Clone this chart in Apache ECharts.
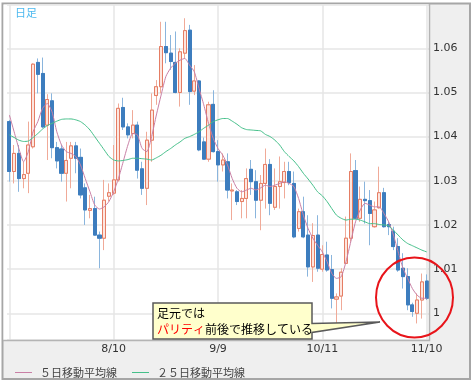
<!DOCTYPE html>
<html><head><meta charset="utf-8">
<script src="https://cdn.jsdelivr.net/npm/echarts@6/dist/echarts.min.js"></script>
<style>html,body{margin:0;padding:0;background:#fff}#c{width:474px;height:384px}</style>
</head><body><div id="c"></div>
<script>
const open = [1.0434,1.0321,1.0362,1.0305,1.0317,1.0377,1.0568,1.0543,1.0426,1.0481,
1.0375,1.0372,1.0317,1.0351,1.0379,1.0353,1.0284,1.0233,1.0237,1.0177,
1.0170,1.0265,1.0272,1.0302,1.0466,1.0422,1.0407,1.0426,1.0327,1.0283,
1.0392,1.0493,1.0513,1.0604,1.0589,1.0568,1.0500,1.0589,1.0641,1.0503,
1.0526,1.0388,1.0349,1.0473,1.0366,1.0336,1.0343,1.0277,1.0275,1.0253,
1.0260,1.0326,1.0298,1.0256,1.0294,1.0337,1.0240,1.0287,1.0296,1.0321,
1.0294,1.0192,1.0230,1.0177,1.0105,1.0177,1.0100,1.0132,1.0099,1.0032,
1.0039,1.0113,1.0170,1.0323,1.0215,1.0258,1.0255,1.0196,1.0239,1.0273,
1.0201,1.0186,1.0151,1.0102,1.0083,1.0019,1.0000,1.0030,1.0073];
const close = [1.0321,1.0362,1.0305,1.0314,1.0381,1.0564,1.0541,1.0422,1.0484,1.0375,
1.0345,1.0317,1.0346,1.0379,1.0351,1.0268,1.0234,1.0237,1.0177,1.0170,
1.0256,1.0273,1.0302,1.0464,1.0422,1.0404,1.0426,1.0324,1.0283,1.0392,
1.0460,1.0513,1.0604,1.0590,1.0570,1.0500,1.0592,1.0640,1.0502,1.0526,
1.0370,1.0349,1.0472,1.0366,1.0336,1.0347,1.0279,1.0279,1.0253,1.0260,
1.0305,1.0298,1.0256,1.0294,1.0337,1.0249,1.0287,1.0298,1.0321,1.0296,
1.0173,1.0230,1.0173,1.0105,1.0176,1.0102,1.0133,1.0098,1.0034,1.0037,
1.0093,1.0170,1.0321,1.0215,1.0258,1.0255,1.0226,1.0234,1.0273,1.0196,
1.0196,1.0151,1.0098,1.0083,1.0019,1.0004,1.0030,1.0071,1.0034];
const low = [1.0298,1.0294,1.0275,1.0283,1.0272,1.0373,1.0498,1.0419,1.0347,1.0351,
1.0328,1.0298,1.0253,1.0283,1.0317,1.0260,1.0200,1.0215,1.0176,1.0102,
1.0143,1.0253,1.0268,1.0298,1.0415,1.0396,1.0396,1.0305,1.0268,1.0245,
1.0343,1.0472,1.0498,1.0566,1.0551,1.0498,1.0468,1.0577,1.0472,1.0494,
1.0367,1.0347,1.0343,1.0364,1.0298,1.0321,1.0260,1.0211,1.0245,1.0215,
1.0215,1.0268,1.0215,1.0188,1.0237,1.0222,1.0234,1.0237,1.0260,1.0290,
1.0170,1.0185,1.0170,1.0083,1.0071,1.0094,1.0094,1.0094,1.0011,0.9977,
1.0007,1.0113,1.0162,1.0213,1.0207,1.0203,1.0154,1.0194,1.0237,1.0194,
1.0177,1.0143,1.0094,1.0056,1.0007,0.9992,0.9977,0.9988,1.0030];
const high = [1.0438,1.0381,1.0381,1.0343,1.0434,1.0566,1.0577,1.0579,1.0496,1.0498,
1.0388,1.0381,1.0388,1.0388,1.0388,1.0373,1.0294,1.0268,1.0264,1.0185,
1.0302,1.0294,1.0381,1.0475,1.0488,1.0430,1.0460,1.0434,1.0343,1.0411,
1.0498,1.0528,1.0660,1.0660,1.0630,1.0638,1.0600,1.0668,1.0653,1.0562,
1.0528,1.0398,1.0479,1.0505,1.0392,1.0362,1.0362,1.0294,1.0279,1.0279,
1.0328,1.0347,1.0324,1.0313,1.0373,1.0349,1.0328,1.0355,1.0343,1.0343,
1.0321,1.0237,1.0264,1.0222,1.0204,1.0222,1.0154,1.0162,1.0132,1.0045,
1.0102,1.0219,1.0362,1.0347,1.0287,1.0298,1.0279,1.0253,1.0332,1.0284,
1.0207,1.0196,1.0170,1.0136,1.0102,1.0024,1.0045,1.0090,1.0088];
const ma5 = [1.0449,1.0411,1.0373,1.0343,1.0366,1.0411,1.0434,1.0464,1.0475,1.0456,
1.0411,1.0381,1.0366,1.0362,1.0355,1.0336,1.0305,1.0275,1.0245,1.0236,
1.0241,1.0253,1.0275,1.0305,1.0343,1.0381,1.0407,1.0404,1.0373,1.0366,
1.0400,1.0449,1.0494,1.0536,1.0555,1.0566,1.0573,1.0577,1.0562,1.0547,
1.0509,1.0472,1.0430,1.0396,1.0373,1.0358,1.0336,1.0305,1.0283,1.0275,
1.0279,1.0283,1.0279,1.0284,1.0290,1.0287,1.0290,1.0294,1.0298,1.0294,
1.0287,1.0260,1.0222,1.0192,1.0170,1.0154,1.0139,1.0117,1.0090,1.0079,
1.0083,1.0117,1.0162,1.0207,1.0234,1.0249,1.0245,1.0241,1.0241,1.0226,
1.0207,1.0177,1.0139,1.0102,1.0079,1.0056,1.0041,1.0034,1.0034];
const ma25 = [1.0404,1.0398,1.0392,1.0389,1.0390,1.0398,1.0407,1.0417,1.0425,1.0430,
1.0435,1.0439,1.0440,1.0440,1.0438,1.0434,1.0426,1.0415,1.0400,1.0385,
1.0370,1.0355,1.0347,1.0345,1.0346,1.0348,1.0351,1.0351,1.0350,1.0349,
1.0347,1.0352,1.0358,1.0366,1.0373,1.0381,1.0388,1.0396,1.0400,1.0405,
1.0411,1.0419,1.0426,1.0434,1.0438,1.0441,1.0441,1.0435,1.0428,1.0420,
1.0416,1.0415,1.0414,1.0413,1.0405,1.0400,1.0392,1.0381,1.0366,1.0355,
1.0345,1.0332,1.0317,1.0304,1.0290,1.0275,1.0266,1.0253,1.0237,1.0222,
1.0215,1.0211,1.0213,1.0213,1.0211,1.0207,1.0203,1.0203,1.0201,1.0200,
1.0198,1.0188,1.0177,1.0166,1.0158,1.0153,1.0148,1.0143,1.0139];
const tickIndex = [0, 22, 44, 66, 88];
const tickLabels = ['', '8/10', '9/9', '10/11', '11/10'];
const seriesNames = ['５日移動平均線', '２５日移動平均線'];
const yMin = 0.99395, yMax = 1.0698;

const categories = open.map((_, i) => String(i));
const candleFull = open.map((o, i) => [o, close[i], low[i], high[i]]);
const candleBody = open.map((o, i) => [o, close[i], Math.min(o, close[i]), Math.max(o, close[i])]);

const NUM = 'DejaVu Sans';
const JP = '"Noto Sans CJK JP"';
const chart = echarts.init(document.getElementById('c'), null, {renderer: 'canvas'});
chart.setOption({
  animation: false,
  grid: {left: 7, right: 45, top: 5, bottom: 44, containLabel: false, outerBoundsMode: 'none'},
  legend: {
    data: seriesNames, left: 10, top: 362, icon: 'rect', itemWidth: 17, itemHeight: 1, itemGap: 15,
    textStyle: {fontSize: 11, color: '#444', fontFamily: JP, padding: [0, 0, 0, 3]}
  },
  xAxis: {
    type: 'category', data: categories, boundaryGap: true,
    axisLine: {show: false}, axisTick: {show: false}, splitLine: {show: false},
    axisLabel: {
      interval: (i) => tickIndex.includes(i), hideOverlap: false, margin: 4,
      formatter: (v, i) => tickLabels[tickIndex.indexOf(Number(v))] || '',
      color: '#333', fontSize: 11, fontFamily: NUM
    }
  },
  yAxis: {
    type: 'value', position: 'right', min: yMin, max: yMax, splitNumber: 8, scale: true,
    axisLine: {show: false}, axisTick: {show: false},
    axisLabel: {margin: 4, color: '#333', fontSize: 11, fontFamily: NUM, showMinLabel: false, showMaxLabel: false,
      formatter: (v) => (Math.abs(v * 100 - Math.round(v * 100)) < 1e-6 ? String(Math.round(v * 100) / 100) : '')},
    splitLine: {lineStyle: {color: '#e6e6e6', width: 1.5}}
  },
  series: [
    {type: 'candlestick', data: candleFull, barWidth: 3.6,
      itemStyle: {color: '#fde6df', color0: '#3d7dbe', borderColor: '#f0aa98', borderColor0: '#8ab5dd', borderWidth: 1},
      markLine: {silent: true, symbol: 'none', z: 1, animation: false, label: {show: false},
        lineStyle: {color: '#e6e6e6', width: 1.5, type: 'solid'},
        data: tickIndex.map(i => ({xAxis: i}))}
    },
    {type: 'candlestick', data: candleBody, barWidth: 3.6,
      itemStyle: {color: '#fde6df', color0: '#3d7dbe', borderColor: '#e57d64', borderColor0: '#3d7dbe', borderWidth: 1}},
    {type: 'line', name: seriesNames[0], data: ma5, symbol: 'none', smooth: 0.2,
      lineStyle: {color: '#c97fa5', width: 1}, itemStyle: {color: '#c97fa5'}},
    {type: 'line', name: seriesNames[1], data: ma25, symbol: 'none', smooth: 0.2,
      lineStyle: {color: '#45c08a', width: 1}, itemStyle: {color: '#45c08a'}}
  ],
  graphic: [
    {type: 'rect', z: -20, silent: true, shape: {x: 2.5, y: 3.5, width: 467.5, height: 375.5},
      style: {fill: '#efefef', stroke: '#a6a6a6', lineWidth: 2}},
    {type: 'rect', z: -19, silent: true, shape: {x: 3.5, y: 4.5, width: 426, height: 335.5},
      style: {fill: '#ffffff'}},
    {type: 'polyline', z: 40, silent: true, shape: {points: [[429.5, 4], [429.5, 340.5], [3, 340.5]]},
      style: {fill: null, stroke: '#b4b4b4', lineWidth: 1.5}},
    {type: 'text', z: 40, silent: true, style: {text: '日足', x: 15, y: 13, fill: '#4cb9ef', fontSize: 11, fontFamily: JP, verticalAlign: 'middle'}},
    {type: 'polygon', z: 50, silent: true,
      shape: {points: [[153, 303], [312, 303], [312, 323.5], [380, 322], [312, 332.5], [312, 339], [153, 339]]},
      style: {fill: '#ffffcc', stroke: '#5a5a5a', lineWidth: 1.5}},
    {type: 'text', z: 51, silent: true, style: {
      x: 157, y: 305, verticalAlign: 'top',
      text: '{k|足元では}\n{r|パリティ}{k|前後で推移している}',
      rich: {k: {fill: '#000', fontSize: 12, lineHeight: 16, fontFamily: JP},
             r: {fill: '#ff0000', fontSize: 12, lineHeight: 16, fontFamily: JP}}}},
    {type: 'ellipse', z: 60, silent: true, shape: {cx: 414.5, cy: 297.5, rx: 38.5, ry: 40},
      style: {fill: 'none', stroke: '#e8141a', lineWidth: 2}}
  ]
});
</script></body></html>
